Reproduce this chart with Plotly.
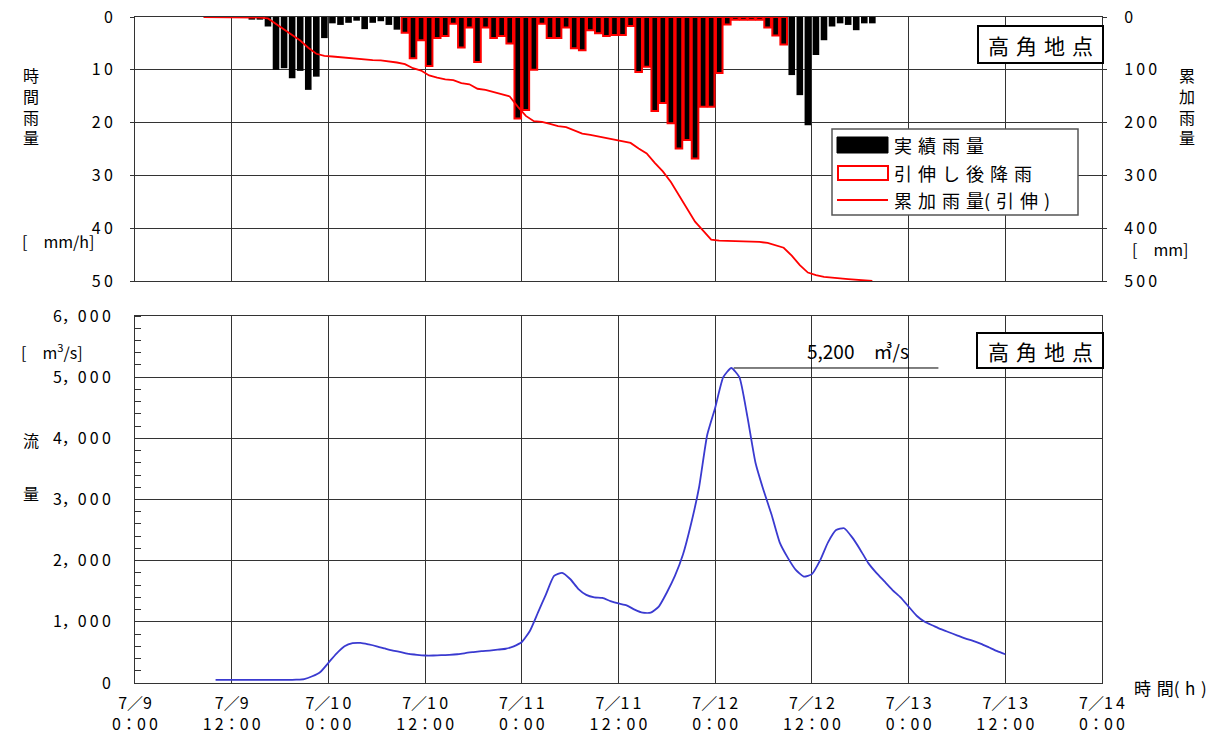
import plotly.graph_objects as go

# hours since 7/9 0:00
tick_hours = [0, 12, 24, 36, 48, 60, 72, 84, 96, 108, 120]
tick_dates = ["7/9", "7/9", "7/10", "7/10", "7/11", "7/11",
              "7/12", "7/12", "7/13", "7/13", "7/14"]
tick_times = ["0:00", "12:00", "0:00", "12:00", "0:00", "12:00",
              "0:00", "12:00", "0:00", "12:00", "0:00"]

rain_ticks = [0, 10, 20, 30, 40, 50]
cum_ticks = [0, 100, 200, 300, 400, 500]
flow_ticks = [0, 1000, 2000, 3000, 4000, 5000, 6000]
flow_labels = ["0", "1,000", "2,000", "3,000", "4,000", "5,000", "6,000"]

# hourly rainfall [mm/h], bar for hour h..h+1, h = 14 .. 91
rain_first = 14
rain_actual = [0.5, 0.5, 1.8, 10.0, 9.7, 11.6, 10.2, 13.8, 11.3, 4.0,
               1.2, 1.5, 1.1, 0.7, 2.3, 1.1, 0.8, 1.5, 2.4, 3.0,
               7.8, 4.4, 9.3, 4.0, 3.6, 1.3, 5.8, 2.0, 8.5, 2.0,
               4.0, 3.6, 5.0, 19.2, 17.6, 10.0, 1.3, 4.0, 4.0, 2.0,
               5.9, 6.3, 2.5, 3.1, 3.6, 3.4, 3.4, 1.7, 10.4, 9.4,
               17.8, 16.3, 20.1, 24.9, 23.3, 26.8, 17.0, 17.0, 10.6, 1.4,
               0.5, 0.5, 0.5, 0.5, 2.0, 3.5, 5.2, 11.0, 14.8, 20.5,
               7.2, 4.4, 1.8, 1.2, 1.5, 2.5, 1.2, 1.2]

# stretched rainfall, h = 33 .. 80
stretch_first = 33
rain_stretched = [3.0, 7.8, 4.4, 9.3, 4.0, 3.6, 1.3, 5.8, 2.0, 8.5,
                  2.0, 4.0, 3.6, 5.0, 19.2, 17.6, 10.0, 1.3, 4.0, 4.0,
                  2.0, 5.9, 6.3, 2.5, 3.1, 3.6, 3.4, 3.4, 1.7, 10.4,
                  9.4, 17.8, 16.3, 20.1, 24.9, 23.3, 26.8, 17.0, 17.0, 10.6,
                  1.4, 0.5, 0.5, 0.5, 0.5, 2.0, 3.5, 5.2]

# cumulative rainfall (stretched) [mm], h = 8 .. 91
cum_first = 8
rain_cum = [0, 0, 0, 0, 0, 0, 0.5, 1.0, 2.8, 12.8,
            22.5, 34.1, 44.5, 58.3, 69.6, 73.6, 74.8, 76.3, 77.4, 78.1,
            80.4, 81.5, 82.3, 83.8, 86.2, 89.2, 97.0, 101.4, 110.7, 114.7,
            118.3, 119.6, 125.4, 127.4, 135.9, 137.9, 141.9, 145.5, 150.5, 169.7,
            187.3, 197.3, 198.6, 202.6, 206.6, 208.6, 214.5, 220.8, 223.3, 226.4,
            230.0, 233.4, 236.8, 238.5, 248.9, 258.3, 276.1, 292.4, 312.5, 337.4,
            360.7, 387.5, 404.5, 421.5, 423.5, 424.0, 424.5, 425.0, 425.5, 426.0,
            428.0, 432.0, 437.0, 452.0, 470.0, 484.0, 489.0, 492.0, 494.0, 495.0,
            496.5, 498.0, 499.0, 500.0]

# discharge [m3/s], hourly from h = 10
flow_first = 10
flow = [50, 50, 50, 50, 50, 50, 50, 50, 50, 50,
        55, 65, 110, 180, 330, 480, 600, 650, 655, 630,
        600, 565, 530, 505, 475, 460, 450, 450, 455, 460,
        470, 490, 505, 520, 530, 545, 560, 600, 670, 850,
        1150, 1450, 1750, 1800, 1700, 1540, 1440, 1400, 1390, 1340,
        1300, 1270, 1200, 1150, 1150, 1250, 1480, 1750, 2100, 2600,
        3200, 4050, 4500, 5000, 5150, 5000, 4350, 3600, 3150, 2750,
        2300, 2050, 1850, 1740, 1780, 2000, 2300, 2500, 2530, 2380,
        2180, 1960, 1800, 1660, 1520, 1400, 1250, 1100, 1000, 940,
        880, 830, 780, 730, 690, 640, 580, 520, 470]
peak_label = "5,200　㎥/s"

FONT = "Noto Sans CJK JP"
GRID = "#333333"


def spread(s, gap="\u2009"):
    out = ""
    for i, c in enumerate(s):
        if i and c.isdigit() and s[i - 1].isdigit():
            out += gap
        out += c
    return out.replace("/", "／").replace(":", "：").replace(",", "，")


def jp(s, gap="\u2004"):
    return gap.join(s)


# pixel -> paper helpers (plot area 135..1102 x 17..683 in the screenshot)
def fx(x):
    return (x - 135) / 967


def fy(y):
    return (683 - y) / 666


rain_x = [rain_first + i + 0.5 for i in range(len(rain_actual))]
stretch_x = [stretch_first + i + 0.5 for i in range(len(rain_stretched))]
cum_x = [cum_first + i + 0.5 for i in range(len(rain_cum))]
flow_x = [flow_first + i for i in range(len(flow))]

fig = go.Figure()
fig.add_trace(go.Bar(x=rain_x, y=rain_actual, width=0.82,
                     marker=dict(color="black", line=dict(width=0)),
                     xaxis="x2", yaxis="y2"))
fig.add_trace(go.Bar(x=stretch_x, y=rain_stretched, width=0.82,
                     marker=dict(color="rgba(0,0,0,0)",
                                 line=dict(color="#ff0000", width=2)),
                     xaxis="x2", yaxis="y2"))
fig.add_trace(go.Scatter(x=cum_x, y=rain_cum, mode="lines",
                         line=dict(color="#ff0000", width=1.8),
                         xaxis="x2", yaxis="y3"))
fig.add_trace(go.Scatter(x=flow_x, y=flow, mode="lines",
                         line=dict(color="#3a3ad0", width=1.8,
                                   shape="spline", smoothing=0.5),
                         xaxis="x", yaxis="y"))

tickfont = dict(family=FONT, size=16, color="black")
axis_common = dict(showline=True, linecolor=GRID, linewidth=1, mirror=True,
                   showgrid=True, gridcolor=GRID, gridwidth=1, zeroline=False,
                   tickfont=tickfont, automargin=False,
                   ticklabeloverflow="allow")

top_dom = [fy(281), 1]
bot_dom = [0, fy(316)]

# the page body adds an 8px offset, so the figure is 8px smaller
fig.update_layout(
    width=1215, height=736,
    margin=dict(l=127, r=121, t=9, b=61),
    paper_bgcolor="white", plot_bgcolor="white",
    barmode="overlay", showlegend=False,
    font=dict(family=FONT, size=16, color="black"),
    xaxis=dict(axis_common, domain=[0, 1], anchor="y", range=[0, 120],
               tickmode="array", tickvals=tick_hours,
               ticktext=[spread(d) + "<br>" + spread(t)
                         for d, t in zip(tick_dates, tick_times)],
               ticks="", ticklabelstandoff=6),
    yaxis=dict(axis_common, domain=bot_dom, anchor="x", range=[0, 6000],
               tickmode="array", tickvals=flow_ticks,
               ticktext=[spread(s) for s in flow_labels],
               ticks="", ticklabelstandoff=20,
               minor=dict(dtick=200, ticks="inside", ticklen=6,
                          tickcolor=GRID, showgrid=False)),
    xaxis2=dict(axis_common, domain=[0, 1], anchor="y2", range=[0, 120],
                tickmode="array", tickvals=tick_hours, showticklabels=False,
                ticks=""),
    yaxis2=dict(axis_common, domain=top_dom, anchor="x2", range=[50, 0],
                tickmode="array", tickvals=rain_ticks,
                ticktext=[spread(str(v)) for v in rain_ticks],
                ticks="outside", ticklen=4, tickcolor=GRID,
                ticklabelstandoff=14),
    yaxis3=dict(domain=top_dom, anchor="x2", overlaying="y2", side="right",
                range=[500, 0], tickmode="array", tickvals=cum_ticks,
                ticktext=[spread(str(v)) for v in cum_ticks],
                showgrid=False, zeroline=False, showline=True, linecolor=GRID,
                ticks="outside", ticklen=4, tickcolor=GRID, automargin=False,
                ticklabeloverflow="allow",
                ticklabelstandoff=14, tickfont=tickfont),
)

shapes = []
ann = []


def text(x, y, s, size=16, xanchor="center", **kw):
    ann.append(dict(x=fx(x), y=fy(y), xref="paper", yref="paper", text=s,
                    showarrow=False, xanchor=xanchor, yanchor="middle",
                    font=dict(family=FONT, size=size, color="black"), **kw))


def rect(x0, y0, x1, y1, line="black", lw=1.5, fill="white"):
    shapes.append(dict(type="rect", xref="paper", yref="paper",
                       x0=fx(x0), x1=fx(x1), y0=fy(y0), y1=fy(y1),
                       line=dict(color=line, width=lw), fillcolor=fill,
                       layer="above"))


# axis titles
text(31, 106, "<br>".join("時間雨量"), size=16)
text(58, 241, "[　mm/h]", size=16)
text(1187, 106, "<br>".join("累加雨量"), size=16)
text(1160, 249, "[　mm]", size=16)
text(31, 440, "流", size=16)
text(31, 493, "量", size=16)
text(52, 351, "[　m<sup>3</sup>/s]", size=16)
text(1170, 687, jp("時間") + "(\u2004h\u2004)", size=17)

# station boxes
rect(978, 26, 1103, 63, lw=2)
text(1040, 45, jp("高角地点"), size=21)
rect(977, 333, 1103, 368, lw=2)
text(1040, 351, jp("高角地点"), size=21)

# legend
rect(832, 129, 1078, 215, line="#555555", lw=1.5)
rect(837, 137, 888, 153, line="black", lw=1, fill="black")
rect(838, 166, 888, 180, line="#ff0000", lw=2)
shapes.append(dict(type="line", xref="paper", yref="paper",
                   x0=fx(837), x1=fx(888), y0=fy(200), y1=fy(200),
                   line=dict(color="#ff0000", width=2), layer="above"))
text(892, 145, jp("実績雨量"), size=18, xanchor="left")
text(892, 173, jp("引伸し後降雨"), size=18, xanchor="left")
text(892, 200, jp("累加雨量") + "(\u2004" + jp("引伸") + "\u2004)", size=18,
     xanchor="left")

# peak note
peak = max(flow)
peak_x = flow_x[flow.index(peak)]
shapes.append(dict(type="line", xref="x", yref="y",
                   x0=peak_x + 0.3, x1=99.7, y0=peak, y1=peak,
                   line=dict(color="black", width=1)))
ann.append(dict(x=89.7, y=peak, xref="x", yref="y",
                text=peak_label,
                showarrow=False, xanchor="center", yanchor="bottom", yshift=2,
                font=dict(family=FONT, size=19, color="black")))

fig.update_layout(shapes=shapes, annotations=ann)
fig.write_html("out.html")
